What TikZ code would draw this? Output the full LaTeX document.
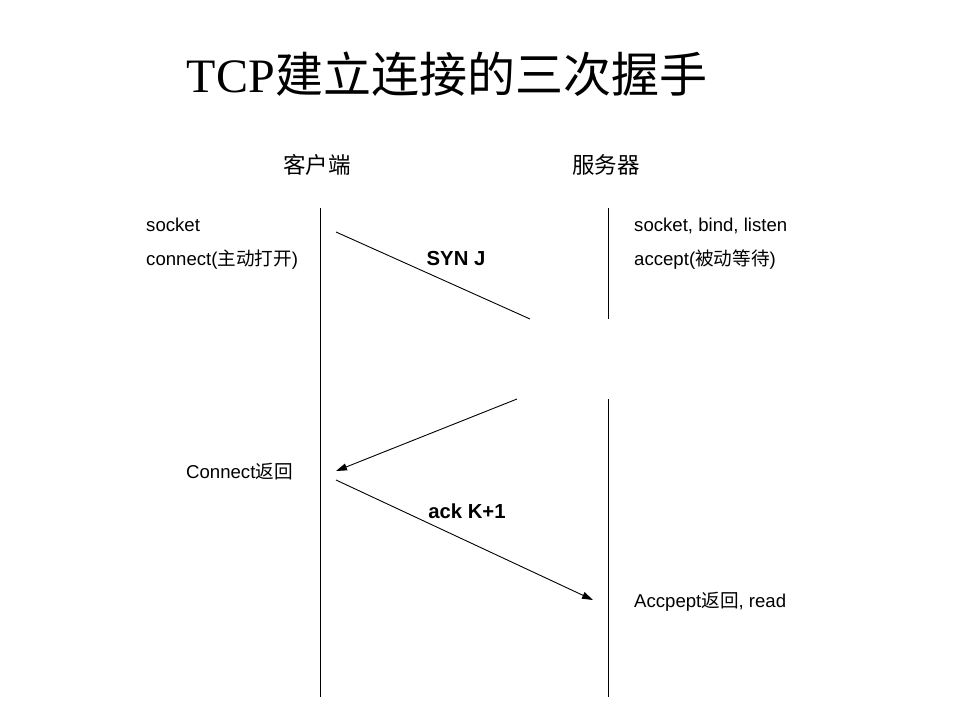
\documentclass[tikz,border=0pt]{standalone}
\usepackage{fontspec}
\setmainfont{Liberation Sans}
\newfontfamily\cjk{Noto Sans CJK SC}
\newfontfamily\tnr{Liberation Serif}
\usetikzlibrary{arrows.meta}
\begin{document}
\begin{tikzpicture}[x=1pt,y=-1pt,
  lbl/.style={anchor=base west,inner sep=0pt,font=\fontsize{18.6}{20}\selectfont},
  msg/.style={anchor=base,inner sep=0pt,font=\fontsize{20.3}{22}\selectfont\bfseries},
  head/.style={anchor=base,inner sep=0pt,font=\fontsize{22.5}{24}\selectfont\cjk},
  life/.style={line width=1pt},
  wire/.style={line width=0.9pt},
  arr/.style={wire,-{Triangle[length=11pt,width=7pt]}}]
\useasboundingbox (0,0) rectangle (960,720);
\fill[white] (0,0) rectangle (960,720);
% title
\node[anchor=base,inner sep=0pt,font=\fontsize{48}{52}\selectfont] (title) at (447,92) {\tnr TCP\cjk 建立连接的三次握手};
% headers
\node[head] (client) at (317,173) {客户端};
\node[head] (server) at (606,173) {服务器};
% lifelines
\coordinate (c1) at (320,208);
\coordinate (c2) at (320,697);
\coordinate (s1) at (608,208);
\coordinate (s2) at (608,319);
\coordinate (s3) at (608,399);
\coordinate (s4) at (608,697);
\draw[life] (c1) -- (c2);
\draw[life] (s1) -- (s2);
\draw[life] (s3) -- (s4);
% left labels
\node[lbl] (csock) at (146,231) {socket};
\node[lbl] (cconn) at (146,265) {connect({\cjk 主动打开})};
\node[lbl] (cret) at (186,478) {Connect{\cjk 返回}};
% right labels
\node[lbl] (ssock) at (634,231) {socket, bind, listen};
\node[lbl] (sacc) at (634,265) {accept({\cjk 被动等待})};
\node[lbl] (sret) at (634,607) {Accpept{\cjk 返回}, read};
% messages
\coordinate (m1a) at (336,232);
\coordinate (m1b) at (530,319);
\coordinate (m2a) at (517,399);
\coordinate (m2b) at (336,471);
\coordinate (m3a) at (336,480);
\coordinate (m3b) at (593,600);
\draw[wire] (m1a) -- (m1b);
\draw[arr] (m2a) -- (m2b);
\draw[arr] (m3a) -- (m3b);
\node[msg] (syn) at (456,265) {SYN J};
\node[msg] (ack) at (467,518) {ack K+1};
\end{tikzpicture}
\end{document}
